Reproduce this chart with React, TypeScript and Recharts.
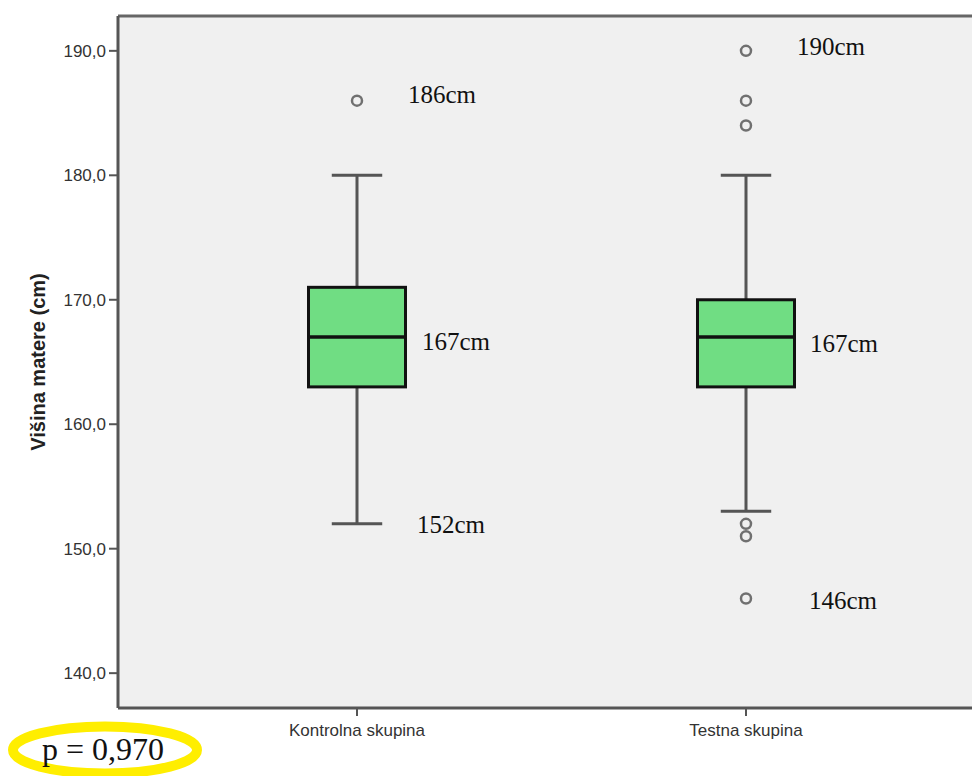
import React from "react";
import { Bar, CartesianGrid, ComposedChart, ReferenceLine, Scatter, XAxis, YAxis } from "recharts";

const groups = ["Kontrolna skupina", "Testna skupina"];
const whiskerLow = [152, 153];
const quartile1 = [163, 163];
const medians = [167, 167];
const quartile3 = [171, 170];
const whiskerHigh = [180, 180];

const outlierGroup = [1, 2, 2, 2, 2, 2, 2];
const outlierValue = [186, 190, 186, 184, 152, 151, 146];

const noteGroup = [1, 2, 1, 2, 1, 2];
const noteValue = [186, 190, 167, 167, 152, 146];
const noteText = ["186cm", "190cm", "167cm", "167cm", "152cm", "146cm"];
// pixel nudges for the notes (dx, dy from the point)
const noteShift = [[51, 2], [51, 4], [65, 13], [64, 15], [60, 9], [63, 11]];

const yTicks = [140, 150, 160, 170, 180, 190];
const Y_MIN = 137.2;
const Y_MAX = 192.8;

const boxes = groups.map((name, i) => ({
    x: i + 1,
    name,
    whisker: [whiskerLow[i], whiskerHigh[i]],
    q1: quartile1[i],
    med: medians[i],
    q3: quartile3[i],
}));
const outliers = outlierGroup.map((g, i) => ({ x: g, v: outlierValue[i] }));
const notes = noteGroup.map((g, i) => ({ x: g, v: noteValue[i], i }));

const sans = 'Arial, "Liberation Sans", sans-serif';
const serif = '"Times New Roman", "Liberation Serif", serif';

const BoxShape = (props: any) => {
    const { x, y, width, height, payload } = props;
    const [lo, hi] = payload.whisker;
    const k = height / (hi - lo);
    const yv = (v: number) => y + (hi - v) * k;
    const cx = x + width / 2;
    const cap = width * 0.26;
    return (
        <g>
            <line x1={cx} x2={cx} y1={yv(hi)} y2={yv(lo)} stroke="#555" strokeWidth={3} />
            <line x1={cx - cap} x2={cx + cap} y1={yv(hi)} y2={yv(hi)} stroke="#555" strokeWidth={3} />
            <line x1={cx - cap} x2={cx + cap} y1={yv(lo)} y2={yv(lo)} stroke="#555" strokeWidth={3} />
            <rect x={x} y={yv(payload.q3)} width={width} height={yv(payload.q1) - yv(payload.q3)} fill="#70DD83" stroke="#111" strokeWidth={3} />
            <line x1={x} x2={x + width} y1={yv(payload.med)} y2={yv(payload.med)} stroke="#111" strokeWidth={3.5} />
        </g>
    );
};

const OutlierShape = (props: any) => (
    <circle cx={props.cx} cy={props.cy} r={5} fill="none" stroke="#707070" strokeWidth={2.5} />
);

const NoteShape = (props: any) => {
    const [dx, dy] = noteShift[props.payload.i];
    return (
        <text x={props.cx + dx} y={props.cy + dy} fontFamily={serif} fontSize={25} fill="#111">
            {noteText[props.payload.i]}
        </text>
    );
};

const YLabel = (props: any) => {
    const vb = props.viewBox;
    const cy = vb.y + vb.height / 2;
    return (
        <text x={38} y={cy} transform={`rotate(-90, 38, ${cy})`} textAnchor="middle" dominantBaseline="central"
            fontFamily={sans} fontSize={20} fontWeight="bold" fill="#222">
            Višina matere (cm)
        </text>
    );
};

export default function App() {
    return (
        <div style={{ position: "absolute", left: 0, top: 0, width: 972, height: 776, background: "#fff" }}>
            <ComposedChart width={972} height={776} data={boxes} margin={{ top: 16, right: 0, bottom: 0, left: 0 }}>
                <CartesianGrid fill="#F0F0F0" horizontal={false} vertical={false} />
                <XAxis
                    dataKey="x"
                    type="number"
                    domain={[0.3856, 2.581]}
                    allowDataOverflow
                    ticks={[1, 2]}
                    tickFormatter={(v: number) => groups[v - 1]}
                    height={68}
                    axisLine={{ stroke: "#555", strokeWidth: 3 }}
                    tickLine={{ stroke: "#555", strokeWidth: 2 }}
                    tickSize={8}
                    tickMargin={8}
                    tick={{ fill: "#333", fontSize: 17, fontFamily: sans }}
                />
                <YAxis
                    type="number"
                    domain={[Y_MIN, Y_MAX]}
                    allowDataOverflow
                    ticks={yTicks}
                    tickFormatter={(v: number) => v.toFixed(1).replace(".", ",")}
                    width={118}
                    axisLine={{ stroke: "#555", strokeWidth: 3 }}
                    tickLine={{ stroke: "#555", strokeWidth: 2 }}
                    tickSize={9}
                    tickMargin={3}
                    tick={{ fill: "#333", fontSize: 17, fontFamily: sans }}
                    label={<YLabel />}
                />
                <ReferenceLine y={Y_MAX} stroke="#666" strokeWidth={3} />
                <Bar dataKey="whisker" barSize={97} shape={<BoxShape />} isAnimationActive={false} />
                <Scatter data={outliers} dataKey="v" shape={<OutlierShape />} isAnimationActive={false} />
                <Scatter data={notes} dataKey="v" shape={<NoteShape />} isAnimationActive={false} />
            </ComposedChart>
            <svg width={972} height={776} style={{ position: "absolute", left: 0, top: 0, pointerEvents: "none" }}>
                <ellipse cx={105} cy={750} rx={92} ry={23.5} fill="none" stroke="#FFEE00" strokeWidth={10} />
                <text x={42} y={760} fontFamily={serif} fontSize={32} fill="#111">p = 0,970</text>
            </svg>
        </div>
    );
}
